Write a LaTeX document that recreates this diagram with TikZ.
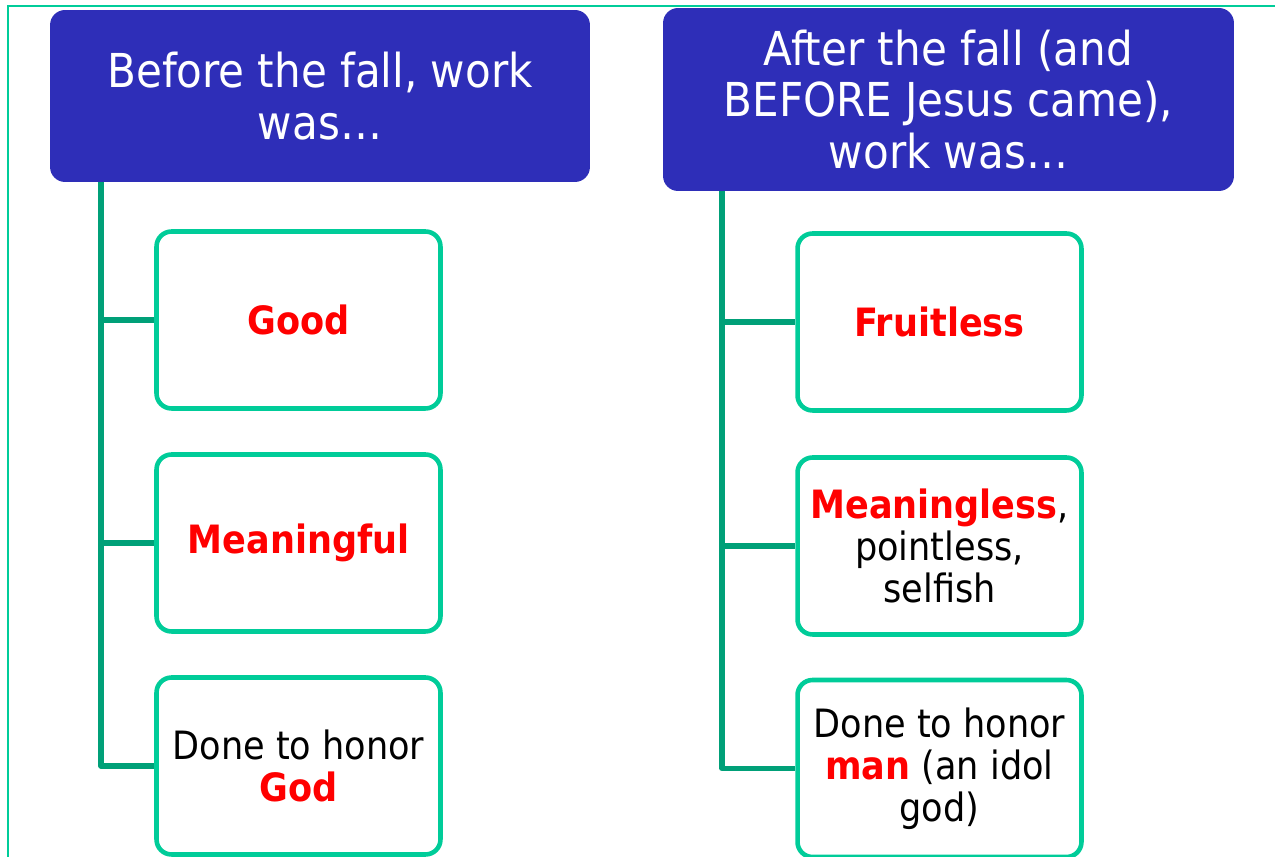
\documentclass[tikz,border=0pt]{standalone}
\usepackage{fontspec}
\setmainfont{DejaVu Sans Condensed}
\usepackage{tikz}
\definecolor{hdrblue}{RGB}{46,46,184}
\definecolor{boxteal}{RGB}{0,204,153}
\definecolor{linkteal}{RGB}{0,160,120}
\definecolor{hotred}{RGB}{255,0,0}
\pgfdeclarelayer{background}
\pgfsetlayers{background,main}
\newcommand{\hot}[1]{\textbf{\textcolor{hotred}{#1}}}
\begin{document}
\begin{tikzpicture}[x=0.02cm,y=-0.02cm,
  hdr/.style={rectangle,rounded corners=0.3cm,fill=hdrblue,text=white,align=center,inner sep=0pt,
    font=\fontsize{26.6}{29.5}\selectfont},
  item/.style={rectangle,rounded corners=0.3cm,draw=boxteal,line width=2.6pt,fill=white,align=center,
    inner sep=0pt,minimum width=5.68cm,minimum height=3.54cm,font=\fontsize{22.2}{23.8}\selectfont},
  trunk/.style={draw=linkteal,line width=3.1pt,line join=round}]
\useasboundingbox(0,0)rectangle(1275,857);
\draw[boxteal,line width=1.4pt](8,860)|-(1280,6);
% left column
\node[hdr,minimum width=10.8cm,minimum height=3.44cm](lh)at(320,96){Before the fall, work\\was…};
\node[item](l1)at(298.5,320){\hot{Good}};
\node[item](l2)at(298.5,543){\hot{Meaningful}};
\node[item](l3)at(298.5,766){Done to honor\\\hot{God}};
\coordinate(lt)at(101,182);
% right column
\node[hdr,minimum width=11.42cm,minimum height=3.66cm](rh)at(948.5,99.5){After the fall (and\\BEFORE Jesus came),\\work was…};
\node[item](r1)at(939.5,322){\hot{Fruitless}};
\node[item](r2)at(939.5,546){\hot{Meaningless},\\pointless,\\selfish};
\node[item](r3)at(939.5,768.5){Done to honor\\\hot{man} (an idol\\god)};
\coordinate(rt)at(722,191);
\begin{pgfonlayer}{background}
\draw[trunk](lt)|-(l3.west);
\foreach \b in {l1,l2} \draw[trunk](lt|-\b.west)--(\b.west);
\draw[trunk](rt)|-(r3.west);
\foreach \b in {r1,r2} \draw[trunk](rt|-\b.west)--(\b.west);
\end{pgfonlayer}
\end{tikzpicture}
\end{document}
